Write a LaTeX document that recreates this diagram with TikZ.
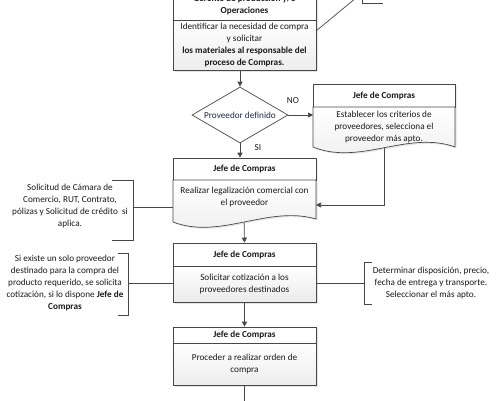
\documentclass[tikz,border=0pt]{standalone}
\usepackage{fontspec}
\setmainfont{Carlito}
\usetikzlibrary{shapes.geometric,arrows.meta}
\definecolor{bord}{HTML}{474747}
\definecolor{txt}{HTML}{1A1A1A}
\definecolor{navy}{HTML}{1F2A44}
\begin{document}
\begin{tikzpicture}[x=1pt,y=-1pt,
  font=\fontsize{9.2}{11.8}\selectfont,
  box/.style={draw=bord, line width=0.7pt},
  shd/.style={fill=black, opacity=0.10},
  headbox/.style={box, fill=white, minimum width=143pt, inner sep=0},
  bodybox/.style={box, top color=white, bottom color=gray!14, minimum width=143pt, inner sep=0, align=center, text=txt},
  lbl/.style={align=center, text=txt, inner sep=0},
  hd/.style={font=\fontsize{9.2}{11.8}\selectfont\bfseries, align=center, text=txt},
  conn/.style={draw=bord, line width=0.7pt},
  arr/.style={conn, -{Triangle[width=5pt,length=5pt]}},
  brk/.style={draw=bord, line width=0.7pt},
]
\useasboundingbox (0,0) rectangle (496,400);
\clip (0,0) rectangle (496,400);

% ---------- box 1 (top)
\fill[shd] (174.5,-10) rectangle (317.5,71.5);
\node[headbox, minimum height=30pt, hd] (g1h) at (244.5,5) {Gerente de producción y/o\\Operaciones};
\node[bodybox, minimum height=50pt] (g1) at (244.5,45) {Identificar la necesidad de compra\\y solicitar\\\textbf{los materiales al responsable del}\\\textbf{proceso de Compras.}};

% top-right annotation (cut off)
\draw[brk] (362,-40) -- (362,3) -- (383,3);
\coordinate (tr) at (362,-7);
\coordinate (g1r) at (316,31);
\draw[conn] (g1r) -- (tr);

% ---------- decision
\node[diamond, draw=bord, line width=0.7pt, fill=white, aspect=1.714, minimum width=96pt, minimum height=56pt, inner sep=0, text=navy] (dia) at (240,115) {Proveedor definido};
\draw[arr] (g1.south -| dia.north) -- (dia.north);
\node[text=txt, inner sep=0] (no) at (293,101) {NO};
\node[text=txt, inner sep=0] (si) at (258,148) {SI};

% ---------- right document box
\fill[shd] (314.5,85.5) -- (456.5,85.5) -- (456.5,148.5) .. controls (409.5,131.5) and (361.5,167.5) .. (314.5,148.5) -- cycle;
\node[headbox, minimum width=142pt, minimum height=23pt, hd] (rh) at (384,95.5) {Jefe de Compras};
\draw[box, top color=white, bottom color=gray!14] (455,107) -- (455,147) .. controls (408,130) and (360,166) .. node[coordinate, pos=0.5] (rdb) {} (313,147) -- (313,107) -- cycle;
\node[lbl] (rb) at (384,127) {Establecer los criterios de\\proveedores, selecciona el\\proveedor más apto.};
\coordinate (rbw) at (313,115);
\draw[arr] (dia.east) -- (rbw);

% ---------- box 2 (document)
\fill[shd] (174.5,159.5) -- (317.5,159.5) -- (317.5,220.5) .. controls (269.5,206.5) and (221.5,241.5) .. (174.5,223.5) -- cycle;
\node[headbox, minimum height=22pt, hd] (b2h) at (244.5,169) {Jefe de Compras};
\draw[box, top color=white, bottom color=gray!14] (316,180) -- (316,219) .. controls (268,205) and (220,240) .. node[coordinate, pos=0.5] (b2b) {} (173,222) -- (173,180) -- cycle;
\node[lbl] (b2) at (244.5,197) {Realizar legalización comercial con\\el proveedor};
\draw[arr] (dia.south) -- (dia.south |- b2h.north);
\coordinate (b2r) at (316,205);
\coordinate (b2l) at (173,207);
\draw[arr] (rdb) |- (b2r);

% left annotation 1
\draw[brk] (112,180) -- (133,180) -- (133,240) -- (112,240);
\node[lbl] (a1) at (70,206) {Solicitud de Cámara de\\Comercio, RUT, Contrato,\\pólizas y Solicitud de crédito\ \ si\\aplica.};
\coordinate (a1r) at (133,207);
\draw[conn] (a1r) -- (b2l);

% ---------- box 3
\fill[shd] (174.5,244.5) rectangle (317.5,303.5);
\node[headbox, minimum height=23pt, hd] (b3h) at (244.5,254.5) {Jefe de Compras};
\node[bodybox, minimum height=36pt, bottom color=gray!16] (b3) at (244.5,284) {Solicitar cotización a los\\proveedores destinados};
\draw[arr] (b2b) -- (b3h.north);

% left annotation 2
\draw[brk] (118,253) -- (128,253) -- (128,315) -- (118,315);
\node[lbl] (a2) at (65,283) {Si existe un solo proveedor\\destinado para la compra del\\producto requerido, se solicita\\cotización, si lo dispone \textbf{Jefe de}\\\textbf{Compras}};
\coordinate (a2r) at (128,283);
\draw[conn] (a2r) -- (a2r -| b3.west);

% right annotation
\draw[brk] (372,262) -- (364,262) -- (364,304) -- (372,304);
\node[lbl] (a3) at (431,283) {Determinar disposición, precio,\\fecha de entrega y transporte.\\Seleccionar el más apto.};
\coordinate (a3l) at (364,283);
\draw[conn] (a3l -| b3.east) -- (a3l);

% ---------- box 4
\fill[shd] (174.5,328.5) rectangle (317.5,386.5);
\node[headbox, minimum height=16pt, hd] (b4h) at (244.5,335) {Jefe de Compras};
\node[bodybox, minimum height=42pt] (b4) at (244.5,364) {Proceder a realizar orden de\\compra};
\draw[arr] (b3.south) -- (b4h.north);
\coordinate (bot) at (244.5,410);
\draw[conn] (b4.south) -- (bot);
\end{tikzpicture}
\end{document}
